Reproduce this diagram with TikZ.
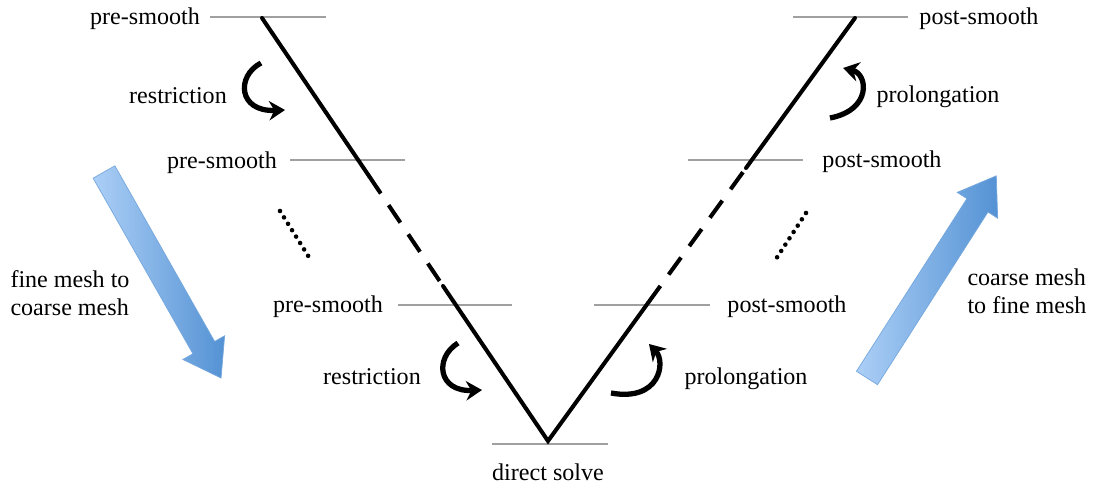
\documentclass[tikz,border=0pt]{standalone}
\usepackage{fontspec}
\setmainfont{Liberation Serif}
\usetikzlibrary{arrows.meta}

\definecolor{levelgray}{RGB}{160,160,160}
\definecolor{meshlight}{RGB}{172,207,246}
\definecolor{meshdark}{RGB}{84,146,212}

\tikzset{
  level/.style={draw=levelgray, line width=1.1pt},
  vcycle/.style={line width=2.3pt, line cap=round},
  vdash/.style={line width=2.3pt, dash pattern=on 12pt off 8pt},
  skipdots/.style={line width=2.6pt, line cap=round, dash pattern=on 0pt off 4.3pt},
  turn/.style={line width=3pt, -{Stealth[length=9pt,width=11pt]}},
  lbl/.style={font=\fontsize{13.7}{16}\selectfont, inner sep=0pt},
  meshshaft/.style={left color=meshlight, right color=meshdark, draw=meshdark!80, line width=0.4pt}
}

\begin{document}
\begin{tikzpicture}[x=0.02cm, y=-0.02cm]
  \useasboundingbox (0,0) rectangle (1096,489);

  % ---- the V: corners and where the dashed stretch begins/ends ----
  \coordinate (fine-l)   at (262,18);
  \coordinate (gap-l-a)  at (369,176);
  \coordinate (gap-l-b)  at (443,286);
  \coordinate (coarse)   at (548,441);
  \coordinate (gap-r-b)  at (648,303);
  \coordinate (gap-r-a)  at (746,168);
  \coordinate (fine-r)   at (855,18);

  % ---- grid levels ----
  \draw[level] (210,17) -- (326,17);
  \draw[level] (793,17) -- (908,17);
  \draw[level] (290,160) -- (405,160);
  \draw[level] (688,160) -- (803,160);
  \draw[level] (398,305) -- (512,305);
  \draw[level] (594,305) -- (710,305);
  \draw[level] (492,444) -- (608,444);

  \draw[vcycle] (fine-l) -- (gap-l-a);
  \draw[vdash]  (gap-l-a) -- (gap-l-b);
  \draw[vcycle] (gap-l-b) -- (coarse) -- (gap-r-b);
  \draw[vdash]  (gap-r-b) -- (gap-r-a);
  \draw[vcycle] (gap-r-a) -- (fine-r);

  % skipped levels
  \draw[skipdots] (280,211) -- (312,262);
  \draw[skipdots] (806,213) -- (774,262);

  % ---- labels ----
  \node[lbl] (pre1)  at (145,19)  {pre-smooth};
  \node[lbl] (pre2)  at (222,163) {pre-smooth};
  \node[lbl] (pre3)  at (328,307) {pre-smooth};
  \node[lbl] (post1) at (979,19)  {post-smooth};
  \node[lbl] (post2) at (882,162) {post-smooth};
  \node[lbl] (post3) at (787,307) {post-smooth};
  \node[lbl] (res1)  at (178,96)  {restriction};
  \node[lbl] (res2)  at (372,377) {restriction};
  \node[lbl] (pro1)  at (938,97)  {prolongation};
  \node[lbl] (pro2)  at (746,379) {prolongation};
  \node[lbl] (solve) at (548,472) {direct solve};
  \node[lbl, align=left] (down) at (70,293)   {fine mesh to\\coarse mesh};
  \node[lbl, align=left] (up)   at (1027,291) {coarse mesh\\to fine mesh};

  % ---- transfer arrows ----
  \draw[turn] (261,63) .. controls (236,76) and (238,112) .. (285,110);
  \draw[turn] (458,343) .. controls (434,358) and (438,392) .. (482,390);
  \draw[turn] (830,118) .. controls (872,110) and (868,74) .. (843,68);
  \draw[turn] (611,393) .. controls (660,402) and (666,362) .. (649,344);

  % ---- big direction arrows ----
  \begin{scope}[shift={(104,172)}, rotate=-60.4]
    \shade[meshshaft] (0,-12.5) -- (202,-12.5) -- (202,-24) -- (237,0)
      -- (202,24) -- (202,12.5) -- (0,12.5) -- cycle;
  \end{scope}
  \begin{scope}[shift={(867,378)}, rotate=57.4]
    \shade[meshshaft] (0,-12.5) -- (205,-12.5) -- (205,-24) -- (240,0)
      -- (205,24) -- (205,12.5) -- (0,12.5) -- cycle;
  \end{scope}
\end{tikzpicture}
\end{document}
